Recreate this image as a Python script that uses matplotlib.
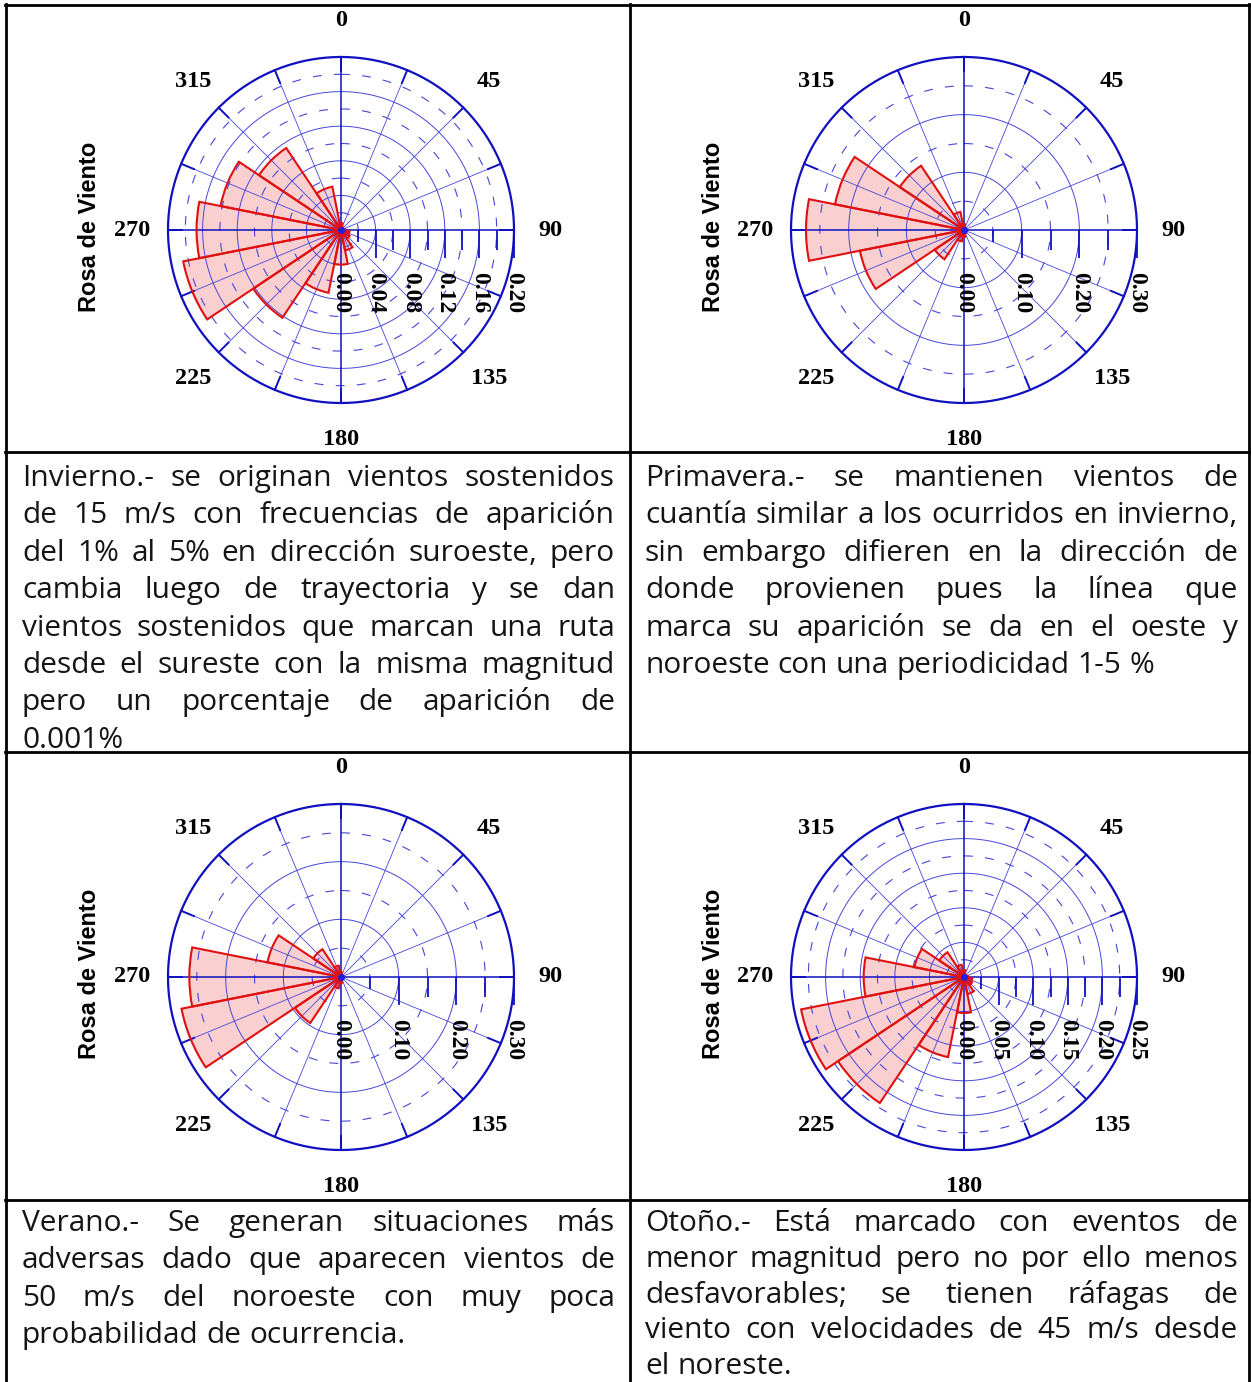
import numpy as np
import matplotlib
matplotlib.use('Agg')
import matplotlib.pyplot as plt
from matplotlib.lines import Line2D
import matplotlib.transforms as mtransforms

W, H = 1251, 1382
DPI = 100

# direcciones de las barras (grados desde el norte, sentido horario)
direcciones = np.arange(0, 360, 22.5)

# frecuencias por direccion: N, NNE, NE, ENE, E, ESE, SE, SSE, S, SSW, SW, WSW, W, WNW, NW, NNW
invierno = [0.008, 0.004, 0.003, 0.003, 0.005, 0.010, 0.012, 0.024,
            0.040, 0.074, 0.122, 0.186, 0.167, 0.142, 0.114, 0.051]
primavera = [0.010, 0.004, 0.003, 0.003, 0.004, 0.004, 0.005, 0.006,
             0.012, 0.020, 0.061, 0.184, 0.274, 0.228, 0.134, 0.032]
verano = [0.008, 0.003, 0.002, 0.002, 0.003, 0.003, 0.004, 0.005,
          0.010, 0.020, 0.096, 0.282, 0.263, 0.130, 0.058, 0.020]
otono = [0.010, 0.004, 0.003, 0.004, 0.006, 0.012, 0.014, 0.025,
         0.052, 0.118, 0.219, 0.240, 0.145, 0.073, 0.043, 0.018]

# escala radial de cada rosa: (maximo, paso entre anillos solidos)
esc_invierno = (0.20, 0.04)
esc_primavera = (0.30, 0.10)
esc_verano = (0.30, 0.10)
esc_otono = (0.25, 0.05)

etiquetas_dir = [0, 45, 90, 135, 180, 225, 270, 315]

txt_invierno = ["Invierno.-  se originan vientos sostenidos",
                "de 15 m/s con frecuencias de aparición",
                "del 1% al 5% en dirección suroeste, pero",
                "cambia luego de trayectoria y se dan",
                "vientos sostenidos que marcan una ruta",
                "desde el sureste con la misma magnitud",
                "pero un porcentaje de aparición de",
                "0.001%"]
txt_primavera = ["Primavera.- se mantienen vientos de",
                 "cuantía similar a los ocurridos en invierno,",
                 "sin embargo difieren en la dirección de",
                 "donde provienen pues la línea que",
                 "marca su aparición se da en el oeste y",
                 "noroeste con una periodicidad 1-5 %"]
txt_verano = ["Verano.- Se generan situaciones más",
              "adversas dado que aparecen vientos de",
              "50 m/s del noroeste con muy poca",
              "probabilidad de ocurrencia."]
txt_otono = ["Otoño.- Está marcado con eventos de",
             "menor magnitud pero no por ello menos",
             "desfavorables; se tienen ráfagas de",
             "viento con velocidades de 45 m/s desde",
             "el noreste."]

azul = '#4646dc'
azul_osc = '#1010c0'
rojo = '#e01010'
rosa_fill = '#f9cfcf'

fig = plt.figure(figsize=(W / DPI, H / DPI), dpi=DPI)
fig.patch.set_facecolor('white')


def fx(x):
    return x / W


def fy(y):
    return 1 - y / H


def px2pt(p):
    return p * 72.0 / DPI


def rosa(cx, cy, valores, esc):
    rmax, paso = esc
    R = 173
    ax = fig.add_axes([fx(cx - R), fy(cy + R), 2 * R / W, 2 * R / H], projection='polar')
    ax.set_theta_zero_location('N')
    ax.set_theta_direction(-1)
    ax.set_ylim(0, rmax)
    ax.axis('off')
    th = np.deg2rad(direcciones)
    ancho = np.deg2rad(22.5)
    ax.bar(th, valores, width=ancho, color=rosa_fill, edgecolor='none', zorder=1)

    t = np.linspace(0, 2 * np.pi, 500)
    n = int(round(rmax / paso))
    for k in range(1, n + 1):
        ax.plot(t, np.full_like(t, (k - 0.5) * paso), color=azul, lw=0.8,
                ls=(0, (8, 11)), zorder=2, clip_on=False)
        lw = 1.6 if k == n else 0.7
        col = azul_osc if k == n else azul
        ax.plot(t, np.full_like(t, k * paso), color=col, lw=lw, zorder=2, clip_on=False)

    for a in direcciones:
        card = a % 90 == 0
        ax.plot(np.deg2rad([a, a]), [0, rmax], color=azul_osc if card else azul,
                lw=1.1 if card else 0.6, zorder=2, clip_on=False)
        ax.plot(np.deg2rad([a, a]), [0.92 * rmax, rmax], color=azul_osc, lw=1.4,
                zorder=2, clip_on=False)

    ax.bar(th, valores, width=ancho, fill=False, edgecolor=rojo, lw=1.5, zorder=3)
    ax.plot([0], [0], 'o', color='#2020e0', ms=4, zorder=4)

    # marcas del eje radial (bajo el eje de 90)
    for k in range(1, 2 * n + 1):
        largo = 28 if k % 2 == 0 else (12 if k == 1 else 20)
        off = mtransforms.ScaledTranslation(0, -px2pt(largo) / 2 / 72, fig.dpi_scale_trans)
        ax.plot([np.pi / 2], [k * paso / 2], ls='none', marker='|', ms=px2pt(largo),
                mew=1.3, color=azul_osc, transform=ax.transData + off, clip_on=False,
                zorder=4)
    for k in range(n + 1):
        ax.annotate(f'{k * paso:.2f}', xy=(np.pi / 2, k * paso), xytext=(0, -px2pt(42)),
                    textcoords='offset points', rotation=-90, ha='center', va='top',
                    family='Liberation Serif', weight='bold', fontsize=17, zorder=5)

    for a in etiquetas_dir:
        ax.text(np.deg2rad(a), 1.21 * rmax, str(a), ha='center', va='center',
                family='Liberation Serif', weight='bold', fontsize=17.5)

    fig.text(fx(cx - 251), fy(cy - 3), 'Rosa de Viento', rotation=90, ha='center',
             va='center', family='Liberation Sans', weight='bold', fontsize=17)


rosa(341, 230, invierno, esc_invierno)
rosa(964, 230, primavera, esc_primavera)
rosa(341, 977, verano, esc_verano)
rosa(964, 977, otono, esc_otono)

# lineas de la tabla
for y in [5, 452, 752, 1200]:
    fig.add_artist(Line2D([fx(5), fx(1250)], [fy(y), fy(y)], color='black', lw=2))
for x in [6, 630, 1249]:
    fig.add_artist(Line2D([fx(x), fx(x)], [fy(4), fy(H + 5)], color='black', lw=2))

# texto justificado
renderer = fig.canvas.get_renderer()
FONT = 'Open Sans'


def ancho_txt(s, size):
    t = fig.text(0, 0, s, family=FONT, fontsize=size)
    w = t.get_window_extent(renderer).width
    t.remove()
    return w


todos = [txt_invierno[:-1], txt_primavera[:-1], txt_verano[:-1], txt_otono[:-1]]
base = 21.5
nat = max(ancho_txt(l, base) for p in todos for l in p)
size = min(base, base * 588 / nat)


def parrafo(lineas, x0, x1, y0, lh):
    esp = ancho_txt('a a', size) - ancho_txt('aa', size)
    for i, linea in enumerate(lineas):
        y = y0 + i * lh
        palabras = linea.split()
        anchos = [ancho_txt(p, size) for p in palabras]
        if i == len(lineas) - 1 or len(palabras) == 1:
            gap = esp
        else:
            gap = (x1 - x0 - sum(anchos)) / (len(palabras) - 1)
        x = x0
        for p, w in zip(palabras, anchos):
            fig.text(fx(x), fy(y), p, family=FONT, fontsize=size, va='baseline',
                     color='#151515')
            x += w + gap


parrafo(txt_invierno, 22, 615, 486, 37.4)
parrafo(txt_primavera, 645, 1238, 486, 37.4)
parrafo(txt_verano, 22, 615, 1231, 37.4)
parrafo(txt_otono, 645, 1238, 1231, 35.8)

fig.savefig('out.png', dpi=DPI)
